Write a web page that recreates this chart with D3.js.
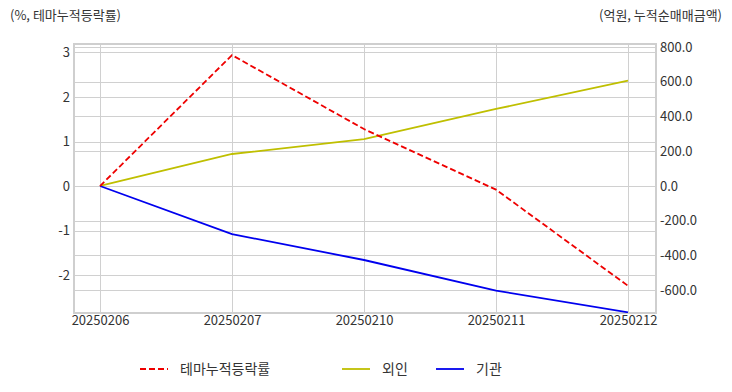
<!DOCTYPE html>
<html>
<head>
<meta charset="utf-8">
<script src="https://cdn.jsdelivr.net/npm/d3@7"></script>
<style>
  body { margin: 0; background: #fff; }
  text { font-family: "Noto Sans CJK KR", "Noto Sans", sans-serif; fill: #333; }
</style>
</head>
<body>
<svg width="732" height="392"></svg>
<script>
const dates = ['20250206', '20250207', '20250210', '20250211', '20250212'];
const themeRate = [0, 2.94, 1.28, -0.08, -2.24];
const foreign = [0, 184, 269, 443, 606];
const institution = [0, -277, -426, -602, -727];
const leftTicks = [-2, -1, 0, 1, 2, 3];
const rightTicks = [-600, -400, -200, 0, 200, 400, 600, 800];

const svg = d3.select('svg');
const plot = { left: 74, right: 656, top: 44, bottom: 313 };

// --- Scales ---
const x = d3.scalePoint().domain(dates).range([100, 628]);
const yL = d3.scaleLinear().domain([-2.85, 3.19]).range([plot.bottom, plot.top]);
const yR = d3.scaleLinear().domain([-731, 817]).range([plot.bottom, plot.top]);

// --- Grid ---
const grid = svg.append('g').attr('stroke', '#d0d0d0').attr('stroke-width', 1);
leftTicks.forEach(t => {
  grid.append('line').attr('x1', plot.left).attr('x2', plot.right)
    .attr('y1', Math.round(yL(t)) + 0.5).attr('y2', Math.round(yL(t)) + 0.5);
});
rightTicks.forEach(t => {
  grid.append('line').attr('x1', plot.left).attr('x2', plot.right)
    .attr('y1', Math.round(yR(t)) + 0.5).attr('y2', Math.round(yR(t)) + 0.5);
});
dates.forEach(d => {
  grid.append('line').attr('x1', x(d) + 0.5).attr('x2', x(d) + 0.5)
    .attr('y1', plot.top).attr('y2', plot.bottom);
});

// --- Border ---
svg.append('rect')
  .attr('x', plot.left).attr('y', plot.top)
  .attr('width', plot.right - plot.left).attr('height', plot.bottom - plot.top)
  .attr('fill', 'none').attr('stroke', '#cfcfcf').attr('stroke-width', 2);

// --- Axes ---
const axL = svg.append('g').attr('transform', `translate(${plot.left},0)`)
  .call(d3.axisLeft(yL).tickValues(leftTicks).tickFormat(d3.format('d')).tickSize(0).tickPadding(4));
const axR = svg.append('g').attr('transform', `translate(${plot.right},0)`)
  .call(d3.axisRight(yR).tickValues(rightTicks).tickFormat(d3.format('.1f')).tickSize(0).tickPadding(4));
const axB = svg.append('g').attr('transform', `translate(0,${plot.bottom})`)
  .call(d3.axisBottom(x).tickSize(0).tickPadding(3));
[axL, axR, axB].forEach(a => {
  a.select('.domain').remove();
  a.selectAll('text').style('font-size', '13px').attr('fill', '#333');
});
axL.selectAll('text').text(d => d < 0 ? '-' + Math.abs(d) : d);
axR.selectAll('text').text(d => d3.format('.1f')(d).replace('−', '-'));

// --- Lines ---
const clip = svg.append('clipPath').attr('id', 'clip').append('rect')
  .attr('x', plot.left).attr('y', plot.top - 2)
  .attr('width', plot.right - plot.left).attr('height', plot.bottom - plot.top + 2);

const lineL = d3.line().x((d, i) => x(dates[i])).y(d => yL(d));
const lineR = d3.line().x((d, i) => x(dates[i])).y(d => yR(d));

const lines = svg.append('g').attr('clip-path', 'url(#clip)').attr('fill', 'none');
lines.append('path').datum(foreign).attr('d', lineR)
  .attr('stroke', '#bfbf00').attr('stroke-width', 1.8);
lines.append('path').datum(institution).attr('d', lineR)
  .attr('stroke', '#0000ee').attr('stroke-width', 1.8);
lines.append('path').datum(themeRate).attr('d', lineL)
  .attr('stroke', '#ee0000').attr('stroke-width', 1.8).attr('stroke-dasharray', '6,3');

// --- Axis titles ---
svg.append('text').attr('x', 10).attr('y', 20).style('font-size', '13px').text('(%, 테마누적등락률)');
svg.append('text').attr('x', 722).attr('y', 20).attr('text-anchor', 'end')
  .style('font-size', '13px').text('(억원, 누적순매매금액)');

// --- Legend ---
const legend = [
  { name: '테마누적등락률', color: '#ee0000', dash: '6,3', x: 140 },
  { name: '외인', color: '#bfbf00', dash: null, x: 342 },
  { name: '기관', color: '#0000ee', dash: null, x: 436 }
];
legend.forEach(l => {
  svg.append('line').attr('x1', l.x).attr('x2', l.x + 28).attr('y1', 369).attr('y2', 369)
    .attr('stroke', l.color).attr('stroke-width', 1.8).attr('stroke-dasharray', l.dash);
  svg.append('text').attr('x', l.x + 40).attr('y', 374).style('font-size', '14px').text(l.name);
});
</script>
</body>
</html>
